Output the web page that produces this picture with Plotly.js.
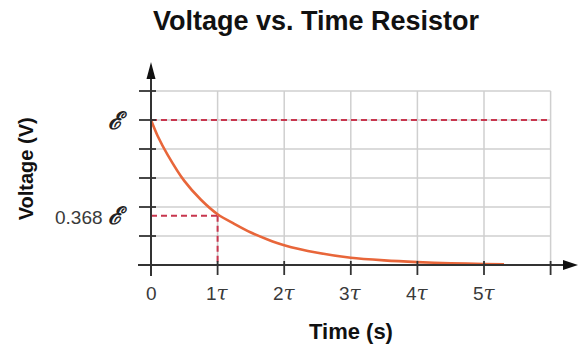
<!DOCTYPE html>
<html>
<head>
<meta charset="utf-8">
<script src="https://cdn.plot.ly/plotly-3.0.1.min.js"></script>
<style>html,body{margin:0;padding:0;background:#fff;}#chart{width:579px;height:345px;}</style>
</head>
<body>
<div id="chart"></div>
<script>
// ---- data (time in units of tau, voltage in grid units; E = 5 units) ----
const timeTicks = [0, 1, 2, 3, 4, 5, 6];
const timeTickLabels = ['0', '1τ', '2τ', '3τ', '4τ', '5τ', ''];
const voltTicks = [0, 1, 2, 3, 4, 5, 6];
const voltLabelValues = [5, 1.7];
const voltLabelTexts = ['ℰ', '0.368 ℰ'];
const emfLevel = 5;
const markLevel = 1.7;   // 0.368 E as drawn
const markTime = 1;      // 1 tau
const timeS = [0, 0.1, 0.25, 0.5, 0.75, 1, 1.25, 1.5, 1.75, 2, 2.5, 3, 3.5, 4, 4.5, 5, 5.3];
const voltage = [5, 4.45, 3.8, 2.9, 2.25, 1.75, 1.42, 1.12, 0.88, 0.68, 0.42, 0.25, 0.16, 0.1, 0.06, 0.035, 0.025];

// ---- layout geometry ----
const W = 579, H = 345;
const mL = 138, mR = 0, mT = 58, mB = 65;
const pxX = 66.6, pxY = 29, x0px = 151, y0px = 265;
const xRange = [(mL - x0px) / pxX, (W - mR - x0px) / pxX];
const yRange = [(y0px - (H - mB)) / pxY, (y0px - mT) / pxY];
const xAxisStart = (138 - x0px) / pxX, xArrowBase = (563 - x0px) / pxX;
const yAxisStart = (y0px - 276) / pxY, yArrowBase = (y0px - 79) / pxY;

const gridColor = '#cfcfcf', axisColor = '#333333', dashColor = '#c8364e', curveColor = '#e8663a';
const tickFont = {family: 'Liberation Sans, Arial, sans-serif', size: 19, color: '#3a3a3a'};

// symbol styling for tau and script E
function styleLabel(s) {
  return s
    .replace(/τ/g, '<span style="font-family:DejaVu Serif;font-style:italic;font-size:20px">τ</span>')
    .replace(/ℰ/g, '<span style="font-family:DejaVu Serif;font-style:italic;font-weight:bold;font-size:24px;fill:#222">ℰ</span>');
}

const shapes = [];
voltTicks.forEach(v => shapes.push({type: 'line', xref: 'x', yref: 'y', x0: 0, x1: timeTicks[timeTicks.length - 1], y0: v, y1: v, line: {color: gridColor, width: 1.5}, layer: 'below'}));
timeTicks.forEach(t => shapes.push({type: 'line', xref: 'x', yref: 'y', x0: t, x1: t, y0: 0, y1: voltTicks[voltTicks.length - 1], line: {color: gridColor, width: 1.5}, layer: 'below'}));
// dashed reference lines
shapes.push({type: 'line', xref: 'x', yref: 'y', x0: 0, x1: timeTicks[timeTicks.length - 1], y0: emfLevel, y1: emfLevel, line: {color: dashColor, width: 2, dash: '6px,4px'}});
shapes.push({type: 'line', xref: 'x', yref: 'y', x0: 0, x1: markTime, y0: markLevel, y1: markLevel, line: {color: dashColor, width: 2, dash: '6px,4px'}});
shapes.push({type: 'line', xref: 'x', yref: 'y', x0: markTime, x1: markTime, y0: markLevel, y1: 0, line: {color: dashColor, width: 2, dash: '6px,4px'}});
// axes lines
shapes.push({type: 'line', xref: 'x', yref: 'y', x0: xAxisStart, x1: xArrowBase, y0: 0, y1: 0, line: {color: axisColor, width: 2}});
shapes.push({type: 'line', xref: 'x', yref: 'y', x0: 0, x1: 0, y0: yAxisStart, y1: yArrowBase, line: {color: axisColor, width: 2}});
// arrow heads
shapes.push({type: 'path', xref: 'x', yref: 'y', xsizemode: 'pixel', ysizemode: 'pixel', xanchor: xArrowBase, yanchor: 0, path: 'M0,-5 L15,0 L0,5 Z', fillcolor: '#111', line: {width: 0}});
shapes.push({type: 'path', xref: 'x', yref: 'y', xsizemode: 'pixel', ysizemode: 'pixel', xanchor: 0, yanchor: yArrowBase, path: 'M-4.5,0 L4.5,0 L0,17 Z', fillcolor: '#111', line: {width: 0}});
// tick marks
timeTicks.forEach(t => shapes.push({type: 'line', xref: 'x', yref: 'y', ysizemode: 'pixel', yanchor: 0, x0: t, x1: t, y0: -10, y1: 4, line: {color: axisColor, width: 1.8}}));
voltTicks.forEach(v => shapes.push({type: 'line', xref: 'x', yref: 'y', xsizemode: 'pixel', xanchor: 0, y0: v, y1: v, x0: -12, x1: 5, line: {color: axisColor, width: 1.8}}));

const annotations = [];
timeTicks.forEach((t, i) => annotations.push({xref: 'x', yref: 'y', x: t, y: 0, yshift: -28, text: styleLabel(timeTickLabels[i]), showarrow: false, xanchor: 'center', yanchor: 'middle', font: tickFont}));
voltLabelValues.forEach((v, i) => annotations.push({xref: 'x', yref: 'y', x: 0, y: v, xshift: -22, text: styleLabel(voltLabelTexts[i]), showarrow: false, xanchor: 'right', yanchor: 'middle', font: tickFont}));
annotations.push({xref: 'x', yref: 'y', x: 3, y: 0, yshift: -66, text: '<b>Time (s)</b>', showarrow: false, xanchor: 'center', yanchor: 'middle', font: {family: 'Liberation Sans, Arial, sans-serif', size: 22, color: '#111'}});
annotations.push({xref: 'x', yref: 'y', x: 0, y: 3.3, xshift: -125, text: '<b>Voltage (V)</b>', textangle: -90, showarrow: false, xanchor: 'center', yanchor: 'middle', font: {family: 'Liberation Sans, Arial, sans-serif', size: 20, color: '#111'}});

const traces = [{
  x: timeS, y: voltage, type: 'scatter', mode: 'lines',
  line: {color: curveColor, width: 2.6, shape: 'spline', smoothing: 0.8},
  cliponaxis: false, hoverinfo: 'skip'
}];

const layout = {
  width: W, height: H,
  margin: {l: mL, r: mR, t: mT, b: mB, pad: 0},
  paper_bgcolor: '#fff', plot_bgcolor: '#fff',
  showlegend: false,
  title: {text: '<b>Voltage vs. Time Resistor</b>', x: 316 / W, xanchor: 'center', xref: 'container', y: 1 - 21 / H, yref: 'container', yanchor: 'middle', font: {family: 'Liberation Sans, Arial, sans-serif', size: 27, color: '#111'}},
  xaxis: {range: xRange, visible: false, fixedrange: true},
  yaxis: {range: yRange, visible: false, fixedrange: true},
  shapes: shapes,
  annotations: annotations
};

Plotly.newPlot('chart', traces, layout, {displayModeBar: false, staticPlot: true});
</script>
</body>
</html>
